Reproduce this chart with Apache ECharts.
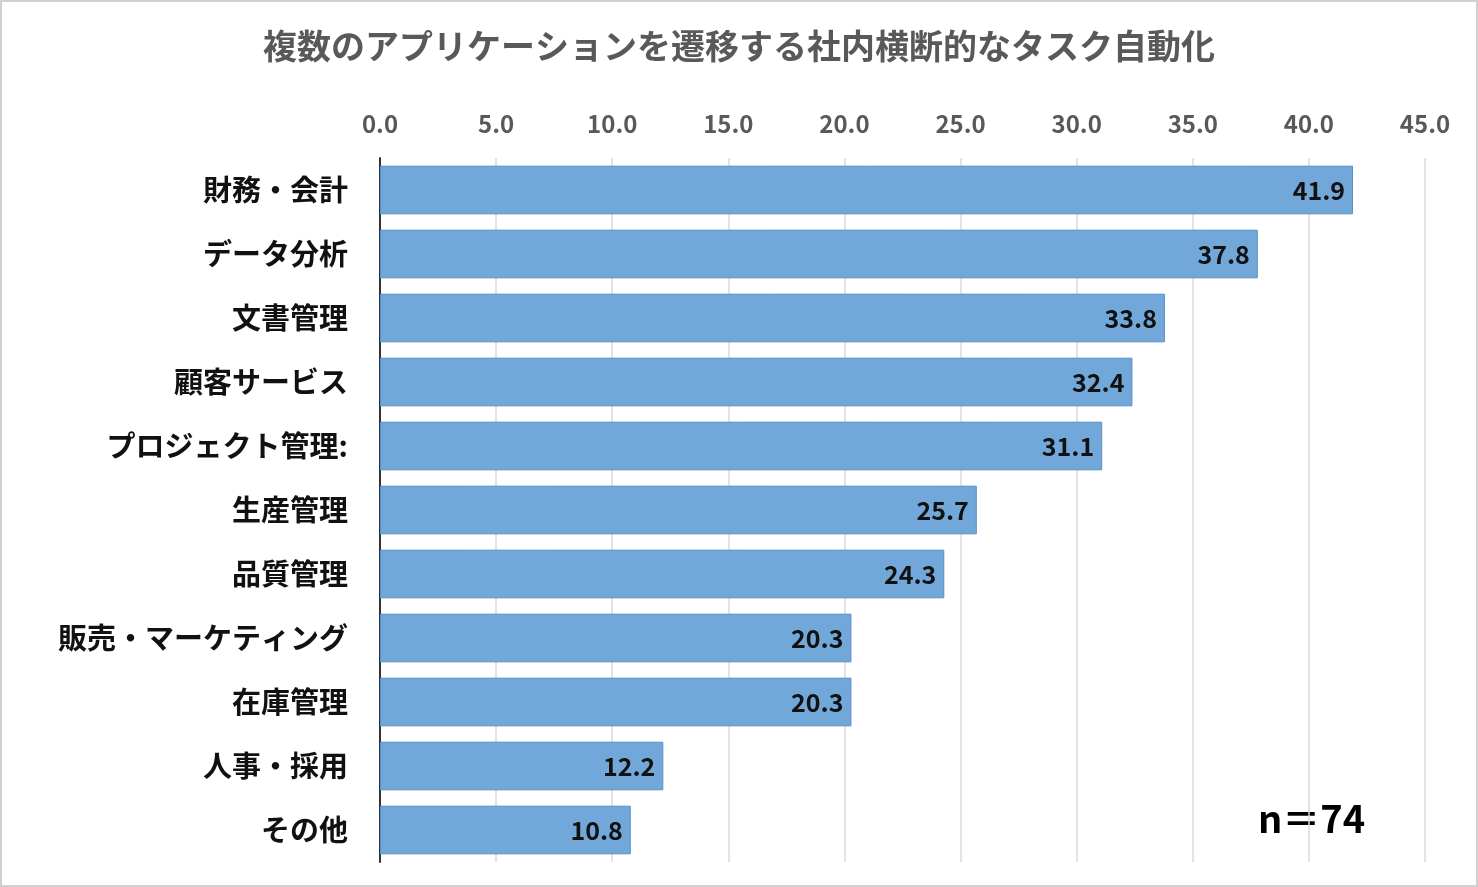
<!DOCTYPE html>
<html><head><meta charset="utf-8">
<script src="https://cdn.jsdelivr.net/npm/echarts@6/dist/echarts.min.js"></script>
<style>html,body{margin:0;padding:0;background:#fff}#c{width:1478px;height:887px;box-sizing:border-box;border:2px solid #d0d0d0}</style>
</head><body><div id="c"></div>
<script>
// 項目
var categories=['財務・会計','データ分析','文書管理','顧客サービス','プロジェクト管理:','生産管理','品質管理','販売・マーケティング','在庫管理','人事・採用','その他'];
// 値(%)
var values=[41.9,37.8,33.8,32.4,31.1,25.7,24.3,20.3,20.3,12.2,10.8];
var font='"Noto Sans CJK JP","Noto Sans",sans-serif';
var myChart=echarts.init(document.getElementById('c'));
var option={
	title:{
		text:'複数のアプリケーションを遷移する社内横断的なタスク自動化',
		left:'center',top:22,
		textStyle:{fontFamily:font,fontSize:34,fontWeight:'bold',color:'#595959'}
	},
	graphic:[{type:'text',left:1256,top:798,style:{text:'n＝74',font:'bold 38px '+font,fill:'#000'}}],
	grid:{left:378,right:51,top:156,bottom:23},
	xAxis:{
		type:'value',position:'top',min:0,max:45,interval:5,
		axisLabel:{formatter:function(v){return v.toFixed(1);},fontFamily:font,fontSize:24,fontWeight:'bold',color:'#595959',margin:22},
		axisLine:{show:false},axisTick:{show:false},
		splitLine:{lineStyle:{color:'#d9d9d9',width:1.5}}
	},
	yAxis:{
		type:'category',inverse:true,data:categories,
		axisLabel:{fontFamily:font,fontSize:29,fontWeight:'bold',color:'#111',margin:32},
		axisLine:{lineStyle:{color:'#333',width:2}},axisTick:{show:false}
	},
	series:[{
		type:'bar',data:values,barCategoryGap:'24%',
		itemStyle:{color:'#72a7da',borderColor:'#5b8fc6',borderWidth:1},
		label:{show:true,position:'insideRight',formatter:function(p){return p.value.toFixed(1);},fontFamily:font,fontSize:25,fontWeight:'bold',color:'#111',distance:8}
	}]
};
myChart.setOption(option);
</script></body></html>
